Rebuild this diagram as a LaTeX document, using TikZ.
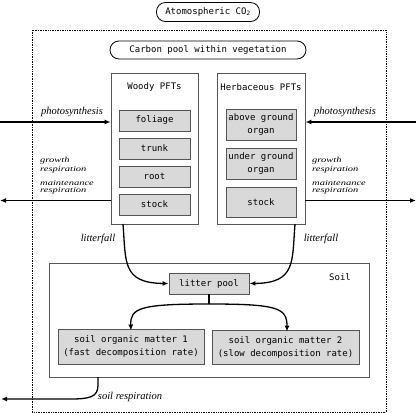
\documentclass[tikz,border=0pt]{standalone}
\usepackage{fontspec}
\setmainfont{Liberation Serif}
\newfontfamily\monof{DejaVu Sans Mono}
\usetikzlibrary{arrows.meta}
\definecolor{boxfill}{HTML}{D9D9D9}
\definecolor{edge}{HTML}{555555}
\tikzset{
  mono/.style={font=\monof\fontsize{9}{13}\selectfont, align=center},
  lbl/.style={font=\itshape\fontsize{10.5}{11}\selectfont, inner sep=0pt},
  pillbox/.style={draw=black, line width=0.8pt, rounded corners=9pt, inner sep=0pt, mono},
  groupbox/.style={draw=edge, line width=0.9pt, inner sep=0pt},
  poolbox/.style={draw=edge, line width=0.9pt, fill=boxfill, inner sep=0pt, mono},
  flow/.style={line width=1.3pt, -{Latex[length=6pt,width=5pt]}},
}
\begin{document}
\begin{tikzpicture}[x=1pt,y=-1pt]
\useasboundingbox (0,0) rectangle (416,413);
% outer dotted frame
\draw[densely dotted, line width=0.7pt] (32,30) rectangle (386,412);

\node[pillbox, minimum width=103pt, minimum height=19pt] (atm) at (208,12) {Atomospheric CO\textsubscript{2}};
\node[pillbox, minimum width=196pt, minimum height=18pt] (cpool) at (208,50) {Carbon pool within vegetation};

% PFT group boxes
\node[groupbox, minimum width=87pt, minimum height=151pt] (woody) at (154.5,148.5) {};
\node[groupbox, minimum width=88pt, minimum height=151pt] (herb) at (261,148.5) {};
\node[mono] (woodyt) at (154.5,87) {Woody PFTs};
\node[mono] (herbt) at (261,87) {Herbaceous PFTs};

% woody pools
\node[poolbox, minimum width=71pt, minimum height=21pt] (foliage) at (154.5,120.5) {foliage};
\node[poolbox, minimum width=71pt, minimum height=21pt] (trunk) at (154.5,148.5) {trunk};
\node[poolbox, minimum width=71pt, minimum height=21pt] (root) at (154.5,176.5) {root};
\node[poolbox, minimum width=71pt, minimum height=21pt] (wstock) at (154.5,204.5) {stock};

% herbaceous pools
\node[poolbox, minimum width=70pt, minimum height=31pt] (above) at (261,124.5) {above ground\\organ};
\node[poolbox, minimum width=70pt, minimum height=31pt] (under) at (261,163.5) {under ground\\organ};
\node[poolbox, minimum width=70pt, minimum height=30pt] (hstock) at (261,202) {stock};

% soil
\node[groupbox, minimum width=320pt, minimum height=114pt] (soil) at (209,320) {};
\node[mono] (soilt) at (340,277) {Soil};
\node[poolbox, minimum width=80pt, minimum height=21pt] (litter) at (209,283.5) {litter pool};
\node[poolbox, minimum width=146pt, minimum height=35pt] (som1) at (131,346.5) {soil organic matter 1\\(fast decomposition rate)};
\node[poolbox, minimum width=147pt, minimum height=34pt] (som2) at (285.5,347) {soil organic matter 2\\(slow decomposition rate)};

% free ends
\coordinate (psl) at (0,122);
\coordinate (psr) at (416,122);
\coordinate (rl) at (0,200.5);
\coordinate (rr) at (416,200.5);
\coordinate (srl) at (1,399);
\coordinate (split) at (209,304);

% photosynthesis
\draw[flow] (psl) -- (psl -| woody.west);
\draw[flow] (psr) -- (psr -| herb.east);
\node[lbl] (phl) at (72,112) {photosynthesis};
\node[lbl] (phr) at (345,112) {photosynthesis};

% respiration
\draw[flow] (rl -| woody.west) -- (rl);
\draw[flow] (rr -| herb.east) -- (rr);
\node[lbl, anchor=west] (grl) at (40,165) {\scalebox{1}[0.72]{\shortstack[l]{growth\\respiration}}};
\node[lbl, anchor=west] (mrl) at (40,187.5) {\scalebox{1}[0.72]{\shortstack[l]{maintenance\\respiration}}};
\node[lbl, anchor=west] (grr) at (312,165) {\scalebox{1}[0.72]{\shortstack[l]{growth\\respiration}}};
\node[lbl, anchor=west] (mrr) at (312,187.5) {\scalebox{1}[0.72]{\shortstack[l]{maintenance\\respiration}}};

% litterfall
\coordinate (lfl) at (123,224);
\coordinate (lfr) at (295,224);
\draw[flow] (lfl) .. controls (126,262) and (122,283) .. (litter.west);
\draw[flow] (lfr) .. controls (292,262) and (296,283) .. (litter.east);
\node[lbl] (lftl) at (98,239) {litterfall};
\node[lbl] (lftr) at (321,239) {litterfall};

% litter to SOM
\draw[line width=1.3pt] (litter.south) -- (split);
\draw[flow] (split) .. controls (140,304) and (130,308) .. ([yshift=-2pt]som1.north);
\draw[flow] (split) .. controls (278,304) and (287,308) .. ([xshift=1.5pt,yshift=-2pt]som2.north);

% soil respiration
\coordinate (sr0) at (98,377);
\draw[flow] (sr0) -- (98,385) .. controls (98,397) and (90,399) .. (70,399) -- (srl);
\node[lbl] (srt) at (130,397) {soil respiration};
\end{tikzpicture}
\end{document}
